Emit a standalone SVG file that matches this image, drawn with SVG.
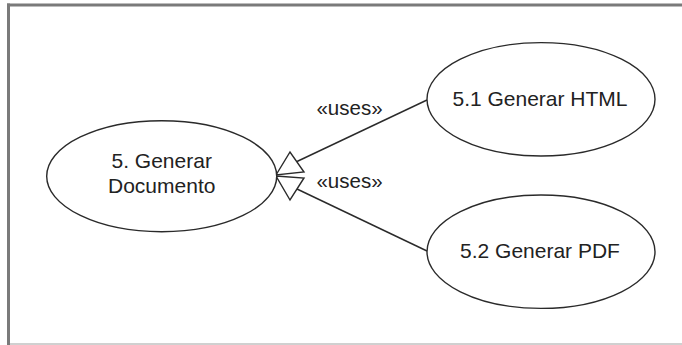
<svg xmlns="http://www.w3.org/2000/svg" width="682" height="345" viewBox="0 0 682 345">
  <style>
    .usecase ellipse { fill: #ffffff; stroke: #2a2a2a; stroke-width: 1.4; }
    .label { font-family: "Liberation Sans", Arial, sans-serif; font-size: 21px; fill: #222222; text-anchor: middle; }
    .stereo { font-family: "Liberation Sans", Arial, sans-serif; font-size: 20.5px; fill: #222222; text-anchor: middle; }
    .edge { fill: none; stroke: #2a2a2a; stroke-width: 1.4; }
    .gen { fill: #ffffff; stroke: #2a2a2a; stroke-width: 1.4; stroke-linejoin: miter; }
  </style>

  <rect x="0" y="0" width="682" height="345" fill="#ffffff"/>

  <!-- frame -->
  <g id="frame">
    <rect x="7" y="3.5" width="675" height="3" fill="#7a7a7a"/>
    <rect x="7" y="3.5" width="3" height="341.5" fill="#7a7a7a"/>
    <rect x="10" y="343" width="672" height="2" fill="#d0d0d0"/>
  </g>

  <!-- connectors: include relations with generalization heads -->
  <g id="connectors">
    <line class="edge" x1="297" y1="161.5" x2="427" y2="100"/>
    <line class="edge" x1="297" y1="189" x2="427" y2="251"/>
    <polygon class="gen" points="276,175 290,152 304,172"/>
    <polygon class="gen" points="276,176 304,178 290,200"/>
    <text class="stereo" x="349.5" y="115">«uses»</text>
    <text class="stereo" x="349.5" y="188">«uses»</text>
  </g>

  <g id="uc5" class="usecase">
    <ellipse cx="161.7" cy="176.2" rx="115" ry="55.5"/>
    <text class="label" x="161.7" y="168">5. Generar</text>
    <text class="label" x="161.7" y="193">Documento</text>
  </g>

  <g id="uc51" class="usecase">
    <ellipse cx="541" cy="99.3" rx="114" ry="56.7"/>
    <text class="label" x="540" y="106">5.1 Generar HTML</text>
  </g>

  <g id="uc52" class="usecase">
    <ellipse cx="541" cy="251.7" rx="114" ry="56.7"/>
    <text class="label" x="540" y="257.7">5.2 Generar PDF</text>
  </g>
</svg>
